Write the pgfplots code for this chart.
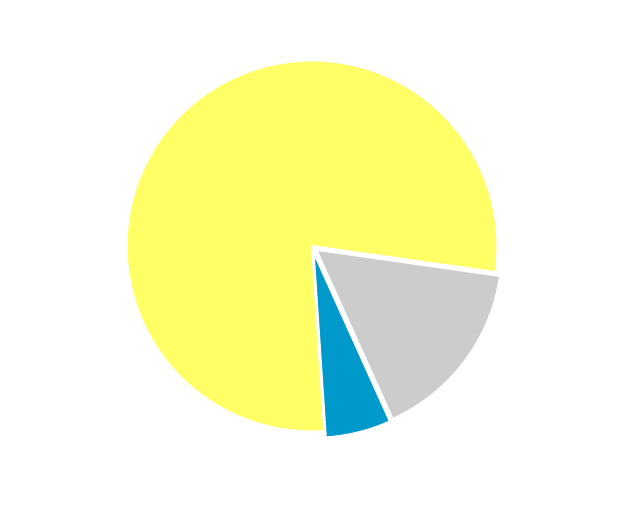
\documentclass[border=0pt]{standalone}
\usepackage{pgfplots}
\pgfplotsset{compat=1.18}

\definecolor{pieyellow}{HTML}{FFFF66}
\definecolor{piegray}{HTML}{CCCCCC}
\definecolor{pieblue}{HTML}{0099CC}

% slice shares in percent
\def\shareA{78.3} % yellow
\def\shareB{16.0} % gray
\def\shareC{5.7}  % blue
\def\startangle{-8.1}
\def\rad{185.5}

\pgfmathsetmacro{\aB}{\startangle-3.6*\shareB}
\pgfmathsetmacro{\aC}{\aB-3.6*\shareC}
\pgfmathsetmacro{\aA}{\aC-3.6*\shareA}

\begin{document}
\begin{tikzpicture}
\useasboundingbox (0,0) rectangle (320pt,255.5pt);
\begin{axis}[
    at={(0,0)}, anchor=south west,
    scale only axis,
    width=320pt, height=255.5pt,
    xmin=-312, xmax=328,
    ymin=-265, ymax=246,
    hide axis,
    clip=false,
    data cs=polar,
    samples=90,
    ]
% yellow
\addplot[fill=pieyellow, draw=white, line width=1pt, domain=\aA:\aC] {\rad} -- (axis cs:0,0) -- cycle;
% gray (exploded)
\addplot[fill=piegray, draw=white, line width=1pt, domain=\aB:\startangle, xshift=2.15pt, yshift=-1.9pt] {\rad} -- (axis cs:0,0) -- cycle;
% blue (exploded)
\addplot[fill=pieblue, draw=white, line width=1pt, domain=\aC:\aB, xshift=0.8pt, yshift=-3.15pt] {\rad} -- (axis cs:0,0) -- cycle;
\end{axis}
\end{tikzpicture}
\end{document}
